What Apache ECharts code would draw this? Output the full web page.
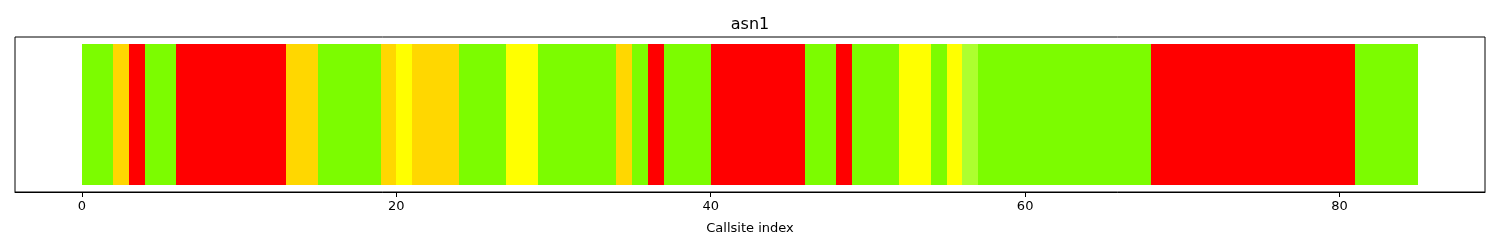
<!DOCTYPE html>
<html>
<head>
<meta charset="utf-8">
<script src="https://cdn.jsdelivr.net/npm/echarts@6/dist/echarts.min.js"></script>
<style>html,body{margin:0;padding:0;background:#fff}#c{width:1500px;height:250px}</style>
</head>
<body>
<div id="c"></div>
<script>
const title = "asn1";
const xLabel = "Callsite index";
const tickValues = [0, 20, 40, 60, 80];
// status category for each callsite index 0..84
const statuses = [
  "G","G","O","R","G","G","R","R","R","R","R","R","R","O","O","G","G","G","G","O",
  "Y","O","O","O","G","G","G","Y","Y","G","G","G","G","G","O","G","R","G","G","G",
  "R","R","R","R","R","R","G","G","R","G","G","G","Y","Y","G","Y","L","G","G","G",
  "G","G","G","G","G","G","G","G","R","R","R","R","R","R","R","R","R","R","R","R",
  "R","G","G","G","G"
];
const statusColors = { G: "#7CFC00", O: "#FFD700", R: "#FF0000", Y: "#FFFF00", L: "#ADFF2F" };

const data = statuses.map((s, i) => [i, s]);
const chart = echarts.init(document.getElementById('c'), null, { renderer: 'canvas' });
chart.setOption({
  animation: false,
  title: { text: title, left: 'center', top: 12, textStyle: { fontFamily: 'DejaVu Sans', fontSize: 16, fontWeight: 'normal', color: '#000' } },
  grid: { left: 15, right: 15, top: 37, bottom: 58, show: true, borderColor: '#000', borderWidth: 1, backgroundColor: 'transparent' },
  xAxis: {
    type: 'value', min: -4.25, max: 89.25,
    name: xLabel, nameLocation: 'middle', nameGap: 30,
    nameTextStyle: { fontFamily: 'DejaVu Sans', fontSize: 13, color: '#000' },
    axisLine: { show: true, onZero: false, lineStyle: { color: '#000' } },
    axisTick: { show: true, inside: false, length: 5, customValues: tickValues, lineStyle: { color: '#000' } },
    axisLabel: { customValues: tickValues, fontFamily: 'DejaVu Sans', fontSize: 13, color: '#000', margin: 8 },
    splitLine: { show: false }
  },
  yAxis: { type: 'value', min: -0.05, max: 1.05, show: false, splitLine: { show: false } },
  series: [{
    type: 'custom',
    data: data,
    encode: { x: 0 },
    renderItem: function (params, api) {
      const i = api.value(0);
      const s = statuses[params.dataIndex];
      const p0 = api.coord([i, 0]);
      const p1 = api.coord([i + 1, 1]);
      const x0 = Math.round(p0[0]), x1 = Math.round(p1[0]);
      const y0 = Math.round(p0[1]), y1 = Math.round(p1[1]);
      return {
        type: 'rect',
        shape: { x: x0, y: y1, width: x1 - x0, height: y0 - y1 },
        style: { fill: statusColors[s] }
      };
    }
  }]
});
</script>
</body>
</html>
